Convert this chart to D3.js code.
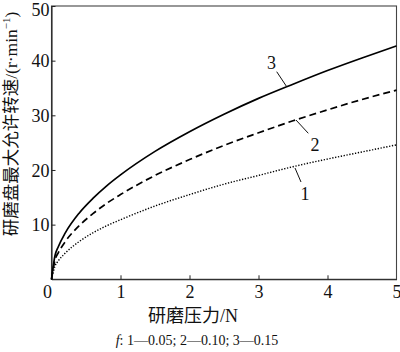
<!DOCTYPE html>
<html>
<head>
<meta charset="utf-8">
<script src="https://cdn.jsdelivr.net/npm/d3@7"></script>
<style>
  html, body { margin: 0; padding: 0; background: #fff; }
  svg { display: block; }
  text { font-family: "Liberation Serif", "Noto Sans CJK SC", serif; fill: #111; }
</style>
</head>
<body>
<svg id="chart" width="400" height="352"></svg>
<script>
// ---- data ----
const pressure = [0, 0.05, 0.1, 0.2, 0.4, 0.6, 0.8, 1, 1.5, 2, 2.5, 3, 3.5, 4, 4.5, 5];
const speedF005 = [0, 2.4, 3.4, 4.8, 6.9, 8.5, 9.8, 10.9, 13.4, 15.5, 17.4, 19.0, 20.6, 22.0, 23.3, 24.6];
const speedF010 = [0, 3.5, 4.9, 6.9, 9.8, 12.0, 13.9, 15.5, 19.0, 21.9, 24.5, 26.8, 29.0, 31.0, 32.9, 34.6];
const speedF015 = [0, 4.3, 6.0, 8.5, 12.1, 14.8, 17.1, 19.1, 23.4, 27.0, 30.2, 33.1, 35.7, 38.2, 40.5, 42.7];
const seriesNames = ["1", "2", "3"];
const xTicks = [0, 1, 2, 3, 4, 5];
const yTicks = [0, 10, 20, 30, 40, 50];
const xTitle = "研磨压力/N";
const yTitle = "研磨盘最大允许转速/(r·min";
const caption = ["f", ": 1—0.05; 2—0.10; 3—0.15"];

// ---- layout ----
const svg = d3.select("#chart");
const L = 51.5, R = 396.5, T = 6, B = 279.3;
const x = d3.scaleLinear().domain([0, 5]).range([L, R]);
const y = d3.scaleLinear().domain([0, 50]).range([B, T]);

// frame
svg.append("rect").attr("x", L).attr("y", T).attr("width", R - L).attr("height", B - T)
  .attr("fill", "none").attr("stroke", "#444").attr("stroke-width", 1.1);

// axes with inward ticks
const xAxis = svg.append("g").attr("transform", `translate(0,${B})`)
  .call(d3.axisBottom(x).tickValues(xTicks).tickSizeInner(-4).tickSizeOuter(0).tickPadding(8).tickFormat(d3.format("d")));
const yAxis = svg.append("g").attr("transform", `translate(${L},0)`)
  .call(d3.axisLeft(y).tickValues(yTicks.filter(d => d > 0)).tickSizeInner(-4).tickSizeOuter(0).tickPadding(6).tickFormat(d3.format("d")));
[xAxis, yAxis].forEach(g => {
  g.select(".domain").attr("stroke", "#222").attr("stroke-width", 1.1);
  g.selectAll(".tick line").attr("stroke", "#222").attr("stroke-width", 1);
  g.selectAll("text").attr("font-size", 18).attr("fill", "#111")
    .attr("font-family", "'Liberation Serif', serif");
});
xAxis.selectAll(".tick line").filter(d => d === 0 || d === 5).remove();
xAxis.selectAll(".tick text").filter(d => d === 0).attr("dx", -4.5);
xAxis.selectAll(".tick text").attr("dy", "0.62em");
yAxis.selectAll(".tick text").attr("dx", 4).attr("dy", "0.34em");
yAxis.selectAll(".tick text").filter(d => d === 50).attr("dy", "0.5em");

// curves
const series = [
  { name: seriesNames[0], vals: speedF005, dash: "1.3,1.6", w: 1.4 },
  { name: seriesNames[1], vals: speedF010, dash: "7,4", w: 1.7 },
  { name: seriesNames[2], vals: speedF015, dash: null, w: 1.7 }
];
const line = d3.line().x((d, i) => x(pressure[i])).y(d => y(d)).curve(d3.curveMonotoneX);
series.forEach(s => {
  svg.append("path").attr("d", line(s.vals)).attr("fill", "none")
    .attr("stroke", "#000").attr("stroke-width", s.w)
    .attr("stroke-dasharray", s.dash);
});

// curve labels with leader lines
const labels = [
  { t: seriesNames[2], lx: 271.5, ly: 69, x1: 276.7, y1: 71.7, x2: 286.7, y2: 86.7 },
  { t: seriesNames[1], lx: 315, ly: 150.5, x1: 296, y1: 120, x2: 308.3, y2: 133.3 },
  { t: seriesNames[0], lx: 305, ly: 199.5, x1: 295, y1: 168, x2: 301, y2: 182 }
];
labels.forEach(l => {
  svg.append("line").attr("x1", l.x1).attr("y1", l.y1).attr("x2", l.x2).attr("y2", l.y2)
    .attr("stroke", "#111").attr("stroke-width", 1);
  svg.append("text").attr("x", l.lx).attr("y", l.ly).attr("text-anchor", "middle")
    .attr("font-size", 18).text(l.t);
});

// axis titles
svg.append("text").attr("x", 193).attr("y", 322).attr("text-anchor", "middle")
  .attr("font-size", 18).text(xTitle);
const yt = svg.append("text").attr("transform", "translate(17,124) rotate(-90)")
  .attr("text-anchor", "middle").attr("font-size", 17.5);
yt.append("tspan").text(yTitle);
yt.append("tspan").attr("font-size", 11).attr("dy", -7).text("−1");
yt.append("tspan").attr("dy", 7).text(")");

// caption
const cap = svg.append("text").attr("x", 197).attr("y", 345).attr("text-anchor", "middle")
  .attr("font-size", 14);
cap.append("tspan").attr("font-style", "italic").text(caption[0]);
cap.append("tspan").text(caption[1]);
</script>
</body>
</html>
